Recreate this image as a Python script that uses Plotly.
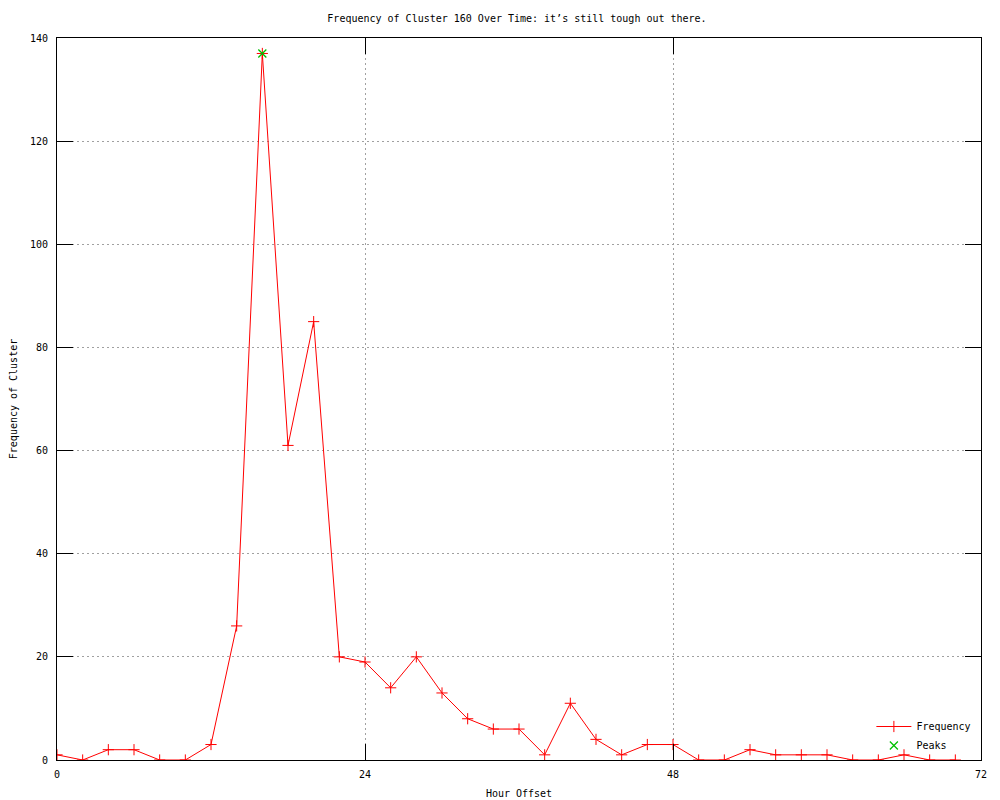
import plotly.graph_objects as go

hours = [0, 2, 4, 6, 8, 10, 12, 14, 16, 18, 20, 22, 24, 26, 28, 30, 32, 34,
         36, 38, 40, 42, 44, 46, 48, 50, 52, 54, 56, 58, 60, 62, 64, 66, 68, 70]
frequency = [1, 0, 2, 2, 0, 0, 3, 26, 137, 61, 85, 20, 19, 14, 20, 13, 8, 6,
             6, 1, 11, 4, 1, 3, 3, 0, 0, 2, 1, 1, 1, 0, 0, 1, 0, 0]
peak_hours = [16]
peak_values = [137]
x_ticks = [0, 24, 48, 72]
y_ticks = [0, 20, 40, 60, 80, 100, 120, 140]

FONT = "DejaVu Sans Mono"

fig = go.Figure()
fig.add_trace(go.Scatter(
    x=hours, y=frequency, mode="lines+markers", name="Frequency",
    line=dict(color="#ff0000", width=1),
    marker=dict(symbol="cross-thin", size=8, line=dict(color="#ff0000", width=1), color="#ff0000"),
))
fig.add_trace(go.Scatter(
    x=peak_hours, y=peak_values, mode="markers", name="Peaks",
    marker=dict(symbol="x-thin", size=8, line=dict(color="#00c000", width=1.3), color="#00c000"),
))

axis_common = dict(
    showline=True, linecolor="black", linewidth=1, mirror="ticks",
    ticks="inside", ticklen=16, tickcolor="black", tickwidth=1,
    showgrid=True, gridcolor="#a0a0a0", griddash="2px,3px", gridwidth=1,
    zeroline=False, tickfont=dict(family=FONT, size=10, color="black"),
)

fig.update_layout(
    width=1000, height=800,
    margin=dict(l=49, r=27, t=30, b=48, autoexpand=False),
    paper_bgcolor="white", plot_bgcolor="white",
    font=dict(family=FONT, size=10, color="black"),
    title=dict(text="Frequency of Cluster 160 Over Time: it\u2019s still tough out there.",
               x=0.509, xanchor="center", y=0.9875, yanchor="middle",
               font=dict(family=FONT, size=10, color="black")),
    xaxis=dict(range=[0, 72], tickvals=x_ticks, ticktext=[str(v) for v in x_ticks],
               ticklabelstandoff=5,
               title=dict(text="Hour Offset", standoff=10, font=dict(family=FONT, size=10)),
               **axis_common),
    yaxis=dict(range=[0, 140], tickvals=y_ticks, ticktext=[str(v) for v in y_ticks],
               ticklabelstandoff=6,
               title=dict(text="Frequency of Cluster", standoff=12, font=dict(family=FONT, size=10)),
               **axis_common),
    legend=dict(x=0.995, y=0.0, xanchor="right", yanchor="bottom",
                bgcolor="rgba(0,0,0,0)", borderwidth=0,
                font=dict(family=FONT, size=10), tracegroupgap=0, itemwidth=35),
    showlegend=True,
)

fig.write_html("out.html")
